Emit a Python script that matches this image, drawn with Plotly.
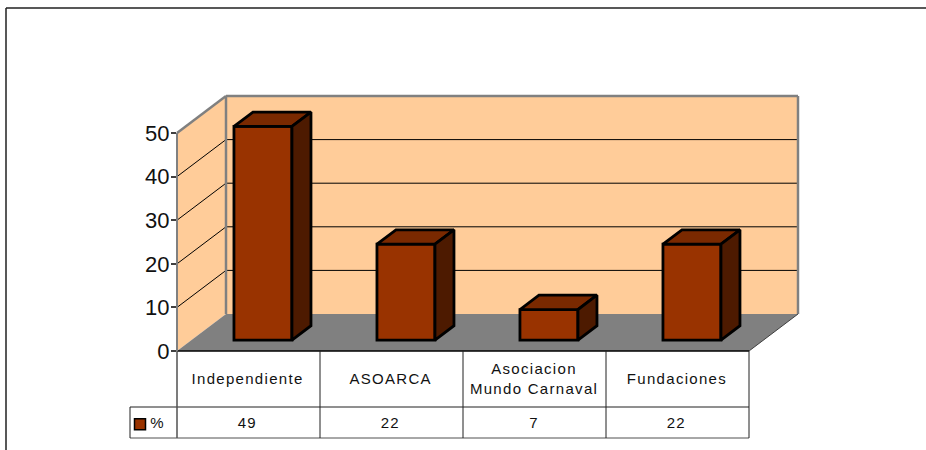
import plotly.graph_objects as go

# --- data ---
categories = ["Independiente", "ASOARCA", "Asociacion<br>Mundo Carnaval", "Fundaciones"]
values = [49, 22, 7, 22]
series_name = "%"
y_ticks = [0, 10, 20, 30, 40, 50]

# --- colours ---
WALL = "#FFCC99"
FLOOR = "#808080"
EDGE = "#808080"
FRONT = "#993300"
TOP = "#7A2900"
SIDE = "#4D1A00"
FONT = "Liberation Sans, Arial, sans-serif"

# --- canvas / projection ---
W, H = 926, 450
X0, Y0 = 177, 351          # pixel of category 0 / value 0 on the front edge
CAT_PX, VAL_PX = 143, 4.36  # pixels per category, per value unit
DEPTH_X, DEPTH_Y = 49 / CAT_PX, 37 / VAL_PX  # full depth of the box in axis units
BAR_W = 58 / CAT_PX
BAR_D0, BAR_D1 = 0.295, 0.683
N = len(categories)
TOP_V = max(y_ticks)


def px(cat, val, depth=0.0):
    return cat + depth * DEPTH_X, val + depth * DEPTH_Y


def poly(pts):
    return "M" + "L".join(f"{x},{y}" for x, y in pts) + "Z"


def px_down(p):
    """value-axis coordinate of a table line p pixels below the front edge"""
    return -p / VAL_PX


ROW1, ROW2 = px_down(56), px_down(87)
LEG_X = -47 / CAT_PX

fig = go.Figure()
shapes = []


def add_poly(pts, fill, line=None, lw=0):
    shapes.append(dict(type="path", path=poly(pts), xref="x", yref="y", layer="below",
                       fillcolor=fill, line=dict(color=line or fill, width=lw)))


def add_line(a, b, color, lw, layer="below"):
    shapes.append(dict(type="line", x0=a[0], y0=a[1], x1=b[0], y1=b[1], xref="x", yref="y",
                       layer=layer, line=dict(color=color, width=lw)))


# walls and floor
add_poly([px(0, 0), px(0, TOP_V), px(0, TOP_V, 1), px(0, 0, 1)], WALL)
add_poly([px(0, 0, 1), px(0, TOP_V, 1), px(N, TOP_V, 1), px(N, 0, 1)], WALL)
add_poly([px(0, 0), px(N, 0), px(N, 0, 1), px(0, 0, 1)], FLOOR)

# gridlines on both walls
for t in y_ticks[1:-1]:
    add_line(px(0, t), px(0, t, 1), "#000000", 1)
    add_line(px(0, t, 1), px(N, t, 1), "#000000", 1)

# wall edges
add_line(px(0, TOP_V), px(0, TOP_V, 1), EDGE, 2.5)
add_line(px(0, TOP_V, 1), px(N, TOP_V, 1), EDGE, 2.5)
add_line(px(N, TOP_V, 1), px(N, 0, 1), EDGE, 2.5)
add_line(px(0, TOP_V, 1), px(0, 0, 1), EDGE, 2.5)
add_line(px(N, 0), px(N, 0, 1), "#404040", 1)

# data table
add_line(px(0, 0), px(N, 0), "#000000", 1.5)
add_line((LEG_X, ROW1), (N, ROW1), "#202020", 1)
add_line((LEG_X, ROW2), (N, ROW2), "#505050", 1)
add_line((LEG_X, ROW1), (LEG_X, ROW2), "#202020", 1)
add_line((0, 0), (0, ROW2), "#505050", 1.5)
for i in range(1, N + 1):
    add_line((i, 0), (i, ROW2), "#202020", 1)

# outer frame
add_line((-171 / CAT_PX, 343 / VAL_PX), (775 / CAT_PX, 343 / VAL_PX), "#202020", 1.5)
add_line((-171 / CAT_PX, 343 / VAL_PX), (-171 / CAT_PX, -99 / VAL_PX), "#202020", 1.5)

# bars: front faces
cx = [i + 0.5 for i in range(N)]
fig.add_trace(go.Bar(
    x=[px(c, 0, BAR_D0)[0] for c in cx], y=values,
    base=[px(0, 0, BAR_D0)[1]] * N, width=BAR_W,
    marker=dict(color=FRONT, line=dict(color="#000000", width=2.8)),
    showlegend=False, hoverinfo="skip"))

# bars: top and side faces
for c, v in zip(cx, values):
    l, r = c - BAR_W / 2, c + BAR_W / 2
    top = [px(l, v, BAR_D0), px(r, v, BAR_D0), px(r, v, BAR_D1), px(l, v, BAR_D1), px(l, v, BAR_D0)]
    side = [px(r, 0, BAR_D0), px(r, v, BAR_D0), px(r, v, BAR_D1), px(r, 0, BAR_D1), px(r, 0, BAR_D0)]
    for pts, col in ((top, TOP), (side, SIDE)):
        fig.add_trace(go.Scatter(
            x=[p[0] for p in pts], y=[p[1] for p in pts], mode="lines", fill="toself",
            fillcolor=col, line=dict(color="#000000", width=2.8), showlegend=False, hoverinfo="skip"))

# legend key
fig.add_trace(go.Scatter(
    x=[LEG_X + 10 / CAT_PX], y=[(ROW1 + ROW2) / 2 - 0.4], mode="markers",
    marker=dict(symbol="square", size=11, color=FRONT, line=dict(color="#000000", width=1.5)),
    showlegend=False, hoverinfo="skip"))

# real value axis over the front edge of the side wall
fig.add_trace(go.Scatter(x=[0], y=[0], xaxis="x", yaxis="y2", mode="markers",
                         marker=dict(opacity=0), showlegend=False, hoverinfo="skip"))

annotations = []
TABLE_FONT = dict(family=FONT, size=15, color="#111111")
for c, name, v in zip(cx, categories, values):
    annotations.append(dict(x=c, y=ROW1 / 2, text=name, xref="x", yref="y", showarrow=False,
                            font=TABLE_FONT, align="center", yanchor="middle", xshift=-1, yshift=1))
    annotations.append(dict(x=c, y=(ROW1 + ROW2) / 2, text=str(v), xref="x", yref="y", showarrow=False,
                            font=TABLE_FONT, xshift=-1))
annotations.append(dict(x=LEG_X + 27 / CAT_PX, y=(ROW1 + ROW2) / 2, text=series_name, xref="x", yref="y",
                        showarrow=False, font=TABLE_FONT))

fig.update_layout(
    width=W, height=H, margin=dict(l=0, r=0, t=0, b=0), autosize=False,
    paper_bgcolor="#ffffff", plot_bgcolor="rgba(0,0,0,0)", showlegend=False,
    shapes=shapes, annotations=annotations, barmode="overlay",
    xaxis=dict(range=[-X0 / CAT_PX, (W - X0) / CAT_PX], visible=False, domain=[0, 1],
               fixedrange=True, automargin=False),
    yaxis=dict(range=[-(H - Y0) / VAL_PX, Y0 / VAL_PX], visible=False, domain=[0, 1],
               fixedrange=True, automargin=False),
    yaxis2=dict(range=[0, TOP_V], domain=[(H - Y0) / H, (H - Y0 + TOP_V * VAL_PX) / H],
                anchor="free", position=X0 / W, side="left", fixedrange=True, automargin=False,
                tickmode="array", tickvals=y_ticks, ticks="outside", ticklen=5, tickwidth=1.5,
                ticklabelstandoff=-3,
                tickcolor="#404040", showline=True, linecolor=EDGE, linewidth=2,
                showgrid=False, zeroline=False, tickfont=dict(family=FONT, size=22, color="#111111")),
)

fig.write_html(
    "out.html",
    config={"displayModeBar": False},
    post_script="document.body.style.margin='0';"
                "document.querySelectorAll('.annotation-text').forEach(function(e){e.style.letterSpacing='1.3px';});",
)
